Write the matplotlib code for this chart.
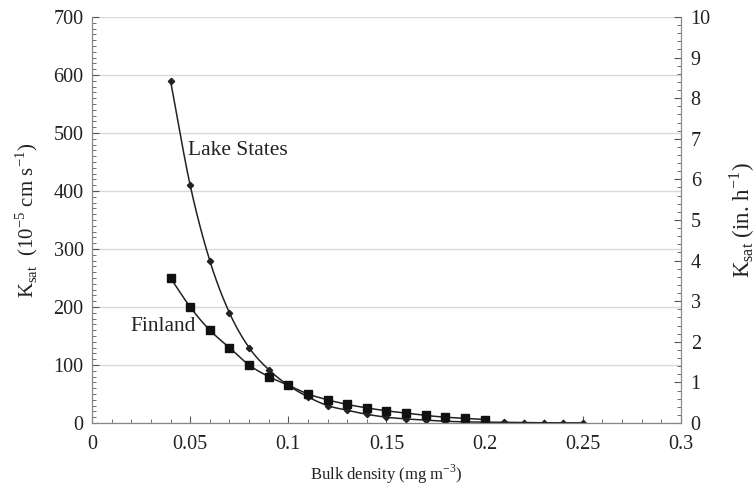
import numpy as np
import matplotlib.pyplot as plt
from matplotlib.ticker import MultipleLocator

plt.rcParams['font.family'] = ['Liberation Serif', 'DejaVu Serif']
plt.rcParams['mathtext.fontset'] = 'custom'
plt.rcParams['mathtext.rm'] = 'Liberation Serif'

# data
lake_x = [0.04, 0.05, 0.06, 0.07, 0.08, 0.09, 0.10, 0.11, 0.12, 0.13, 0.14,
          0.15, 0.16, 0.17, 0.18, 0.19, 0.20, 0.21, 0.22, 0.23, 0.24, 0.25]
lake_y = [590, 410, 280, 190, 130, 92, 65, 45, 30, 22, 15,
          10, 7, 5, 3, 2, 1.5, 1, 0.6, 0.4, 0.3, 0.2]
fin_x = [0.04, 0.05, 0.06, 0.07, 0.08, 0.09, 0.10, 0.11, 0.12, 0.13, 0.14,
         0.15, 0.16, 0.17, 0.18, 0.19, 0.20]
fin_y = [250, 200, 160, 130, 100, 80, 65, 50, 40, 32, 26,
         21, 17, 13, 10, 8, 6]


def smooth(x, y, n=12):
    # catmull-rom curve through the points, like a smoothed spreadsheet line
    x = np.asarray(x, float)
    y = np.asarray(y, float)
    px = np.concatenate([[2 * x[0] - x[1]], x, [2 * x[-1] - x[-2]]])
    py = np.concatenate([[2 * y[0] - y[1]], y, [2 * y[-1] - y[-2]]])
    xs, ys = [], []
    t = np.linspace(0, 1, n, endpoint=False)
    for i in range(1, len(px) - 2):
        for p, out in ((px, xs), (py, ys)):
            p0, p1, p2, p3 = p[i - 1], p[i], p[i + 1], p[i + 2]
            out.extend(0.5 * (2 * p1 + (-p0 + p2) * t
                              + (2 * p0 - 5 * p1 + 4 * p2 - p3) * t ** 2
                              + (-p0 + 3 * p1 - 3 * p2 + p3) * t ** 3))
    xs.append(x[-1])
    ys.append(y[-1])
    return np.array(xs), np.array(ys)


fig = plt.figure(figsize=(7.56, 4.91), dpi=100)
ax = fig.add_axes([0.1217, 0.1385, 0.779, 0.827])

ax.set_xlim(0, 0.3)
ax.set_ylim(0, 700)
ax.yaxis.set_major_locator(MultipleLocator(100))
ax.yaxis.set_minor_locator(MultipleLocator(10))
ax.xaxis.set_major_locator(MultipleLocator(0.05))
ax.xaxis.set_minor_locator(MultipleLocator(0.01))
ax.xaxis.set_major_formatter(plt.FuncFormatter(lambda v, p: '0' if v == 0 else f'{v:g}'))
ax.grid(axis='y', color='#d9d9d9', linewidth=1)
ax.set_axisbelow(True)

sx, sy = smooth(lake_x, lake_y)
ax.plot(sx, sy, color='#222222', linewidth=1.1)
ax.plot(lake_x, lake_y, linestyle='none', marker='D', markersize=3.2, color='#222222')

sx, sy = smooth(fin_x, fin_y)
ax.plot(sx, sy, color='#222222', linewidth=1.1)
ax.plot(fin_x, fin_y, linestyle='none', marker='s', markersize=6, color='#111111')

ax.text(0.0489, 470, 'Lake States', fontsize=15.5, va='center', ha='left', color='#222222')
ax.text(0.0194, 167, 'Finland', fontsize=15.5, va='center', ha='left', color='#222222')

ax.set_xlabel('Bulk density (mg m$^{-3}$)', fontsize=12, color='#222222', labelpad=6)
ax.set_ylabel('K$_{\\mathrm{sat}}$  (10$^{-5}$ cm s$^{-1}$)', fontsize=15, color='#222222', labelpad=10)

ax.spines['top'].set_visible(False)
for s in ['left', 'bottom', 'right']:
    ax.spines[s].set_color('#888888')
ax.tick_params(which='both', direction='in', colors='#555555', labelcolor='#222222', labelsize=14.5)
ax.tick_params(which='major', length=5)
ax.tick_params(which='minor', length=3)
ax.tick_params(axis='x', pad=9)
ax.tick_params(axis='y', pad=6)

ax2 = ax.twinx()
ax2.set_ylim(0, 10)
ax2.yaxis.set_major_locator(MultipleLocator(1))
ax2.yaxis.set_minor_locator(MultipleLocator(0.2))
ax2.spines['top'].set_visible(False)
for s in ['left', 'bottom', 'right']:
    ax2.spines[s].set_color('#888888')
ax2.tick_params(which='both', direction='in', colors='#555555', labelcolor='#222222', labelsize=14.5)
ax2.tick_params(which='major', length=5)
ax2.tick_params(which='minor', length=3)
ax2.tick_params(axis='y', pad=7)
ax2.set_ylabel('K$_{\\mathrm{sat}}$ (in. h$^{-1}$)', fontsize=16.5, color='#222222', labelpad=12)

fig.savefig('out.png', dpi=100)
